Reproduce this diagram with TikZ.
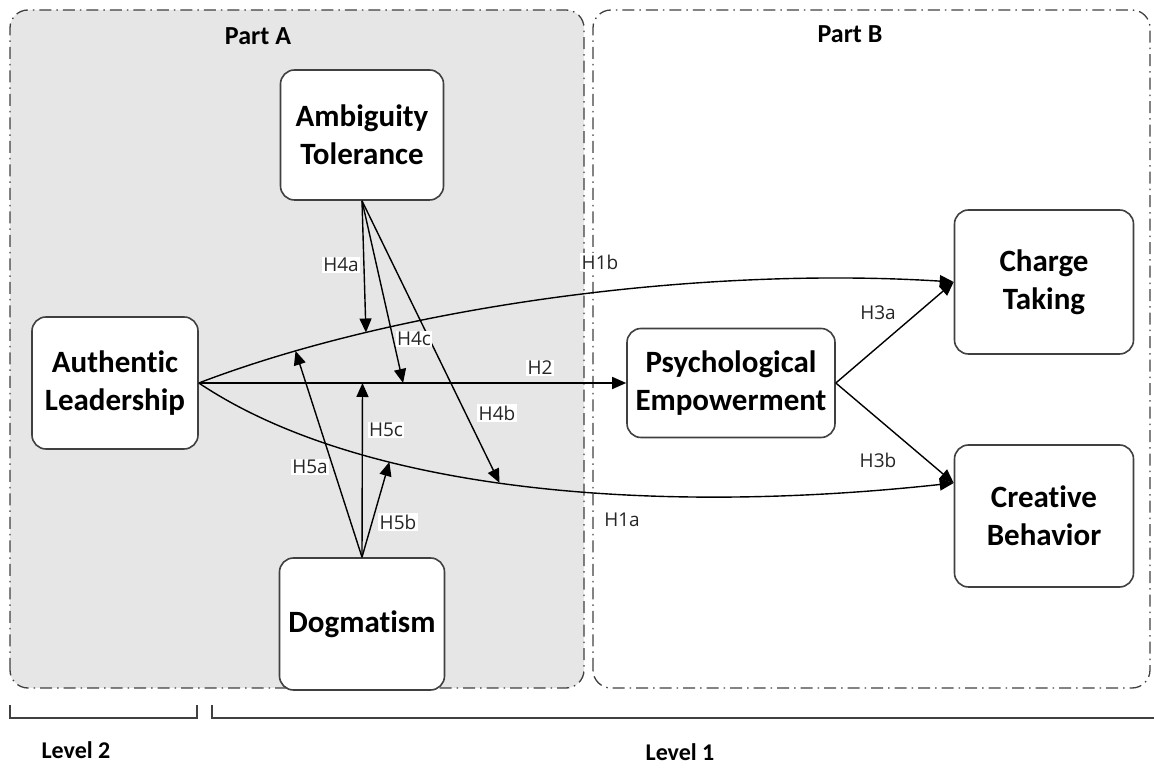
\documentclass[tikz,border=0pt]{standalone}
\usepackage{fontspec}
\setmainfont[Ligatures={NoCommon}]{Carlito}
\newfontfamily\hypfont{Open Sans}
\usetikzlibrary{arrows.meta}
\definecolor{partgray}{HTML}{E6E6E6}
\definecolor{edgegray}{HTML}{404040}

\begin{document}
\begin{tikzpicture}[x=1pt,y=1pt,
  box/.style={draw=edgegray,line width=1.6pt,rounded corners=14pt,fill=white,align=center,inner sep=0pt,font=\bfseries\fontsize{31}{38}\selectfont},
  part/.style={draw=edgegray,line width=1.3pt,rounded corners=18pt,dash pattern=on 12pt off 5pt on 1.5pt off 5pt},
  title/.style={font=\bfseries\fontsize{26}{28}\selectfont},
  hyp/.style={fill=white,inner sep=1.5pt,text=black!85,font=\hypfont\fontsize{19}{21}\selectfont},
  link/.style={line width=1.4pt,-{Triangle[length=14pt,width=12pt]}},
  bracket/.style={draw=edgegray,line width=1.5pt}]
\useasboundingbox (0,0) rectangle (1154,771);

% the two parts
\draw[part,fill=partgray] (10,83) rectangle (584,761);
\draw[part] (593,83) rectangle (1150,761);
\node[title] (partA) at (258,735) {Part A};
\node[title] (partB) at (850,737) {Part B};

% constructs
\node[box,minimum width=163pt,minimum height=130pt] (at) at (362,636) {Ambiguity\\Tolerance};
\node[box,minimum width=166pt,minimum height=132pt] (al) at (115,388) {Authentic\\Leadership};
\node[box,minimum width=165pt,minimum height=132pt] (dg) at (362,147) {Dogmatism};
\node[box,minimum width=208pt,minimum height=109pt] (pe) at (731,388) {Psychological\\Empowerment};
\node[box,minimum width=179pt,minimum height=144pt] (ct) at (1044,489) {Charge\\Taking};
\node[box,minimum width=179pt,minimum height=142pt] (cb) at (1044,255) {Creative\\Behavior};

% direct paths
\draw[link] (al.east) -- (pe.west) coordinate[pos=0.383] (h5c) coordinate[pos=0.478] (h4c);
\draw[link] (al.east) .. controls (400,465) and (700,505) .. (ct.west) coordinate[pos=0.15] (h5a) coordinate[pos=0.25] (h4a);
\draw[link] (al.east) .. controls (360,280) and (650,255) .. ([yshift=33pt]cb.west) coordinate[pos=0.32] (h5b) coordinate[pos=0.47] (h4b);
\draw[link] (pe.east) -- (ct.west);
\draw[link] (pe.east) -- ([yshift=33pt]cb.west);

% moderators
\draw[link] (at.south) -- (h4a);
\draw[link] (at.south) -- (h4c);
\draw[link] (at.south) -- (h4b);
\draw[link] (dg.north) -- (h5a);
\draw[link] (dg.north) -- (h5c);
\draw[link] (dg.north) -- (h5b);

% hypotheses
\node[hyp] (l1b) at (600,509) {H1b};
\node[hyp] (l1a) at (622,251) {H1a};
\node[hyp] (l2) at (540,403) {H2};
\node[hyp] (l3a) at (878,458) {H3a};
\node[hyp] (l3b) at (878,311) {H3b};
\node[hyp] (l4a) at (341,506) {H4a};
\node[hyp] (l4c) at (414,432) {H4c};
\node[hyp] (l4b) at (497,358) {H4b};
\node[hyp] (l5c) at (386,341) {H5c};
\node[hyp] (l5a) at (310,304) {H5a};
\node[hyp] (l5b) at (398,249) {H5b};

% levels
\draw[bracket] (10,66) |- (197,53) -- (197,66);
\draw[bracket] (212,66) |- (1154,53);
\node[title,font=\bfseries\fontsize{24}{26}\selectfont] (lev2) at (76,21) {Level 2};
\node[title,font=\bfseries\fontsize{24}{26}\selectfont] (lev1) at (680,19) {Level 1};
\end{tikzpicture}
\end{document}
